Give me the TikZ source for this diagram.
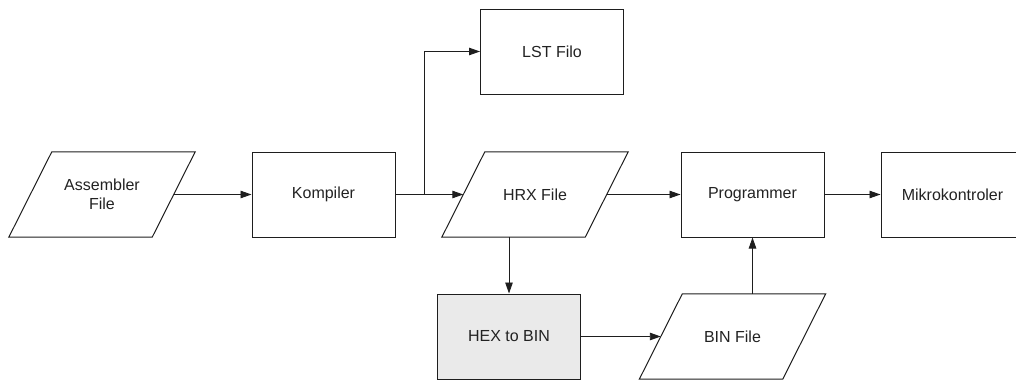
\documentclass[tikz,border=0pt]{standalone}
\usepackage{fontspec}
\setmainfont{Liberation Sans}
\usetikzlibrary{arrows.meta,calc}
\definecolor{inkline}{HTML}{1E1E1E}
\definecolor{inktext}{HTML}{222222}
\definecolor{procfill}{HTML}{EAEAEA}
% slanted outline of a data node: the node body is its mid-height rectangle
\newcommand\ioframe[1]{%
  \draw[iobox] ($(#1.north west)+(21.5,0)$) -- ($(#1.north east)+(21.5,0)$)
    -- ($(#1.south east)+(-21.5,0)$) -- ($(#1.south west)+(-21.5,0)$) -- cycle;}
\begin{document}
\begin{tikzpicture}[x=1pt,y=-1pt,
  every node/.style={font=\fontsize{16}{18.5}\selectfont, text=inktext},
  procbox/.style={draw=inkline, line width=1pt, rectangle, minimum width=143pt,
    minimum height=85pt, inner sep=0pt, align=center},
  iobody/.style={rectangle, minimum width=143pt, minimum height=85pt,
    inner sep=0pt, align=center},
  iobox/.style={draw=inkline, line width=1pt},
  flow/.style={draw=inkline, line width=0.9pt, -{Triangle[length=11pt,width=7.5pt]}}]
  \useasboundingbox (0,0) rectangle (1016,380);

  % process and data nodes
  \node[iobody]  (asm)  at (102,194.5)  {Assembler\\File};
  \node[procbox] (comp) at (323.5,194.5) {Kompiler};
  \node[procbox] (lst)  at (552,51.5)    {LST Filo};
  \node[iobody]  (hrx)  at (535,194.5)   {HRX File};
  \node[procbox] (prog) at (752.5,194.5) {Programmer};
  \node[procbox] (mcu)  at (952.5,194.5) {Mikrokontroler};
  \node[procbox, fill=procfill] (h2b) at (509,336.5) {HEX to BIN};
  \node[iobody]  (bin)  at (732.5,336.5) {BIN File};
  \ioframe{asm}
  \ioframe{hrx}
  \ioframe{bin}

  % branch point on the compiler output
  \coordinate (split) at (424,194.5);

  % connectors
  \draw[flow] (asm.east) -- (comp.west);
  \draw[flow] (comp.east) -- (hrx.west);
  \draw[flow] (split) |- (lst.west);
  \draw[flow] (hrx.east) -- (prog.west);
  \draw[flow] (prog.east) -- (mcu.west);
  \draw[flow] (h2b.north |- hrx.south) -- (h2b.north);
  \draw[flow] (h2b.east) -- (bin.west);
  \draw[flow] (prog.south |- bin.north) -- (prog.south);
\end{tikzpicture}
\end{document}
